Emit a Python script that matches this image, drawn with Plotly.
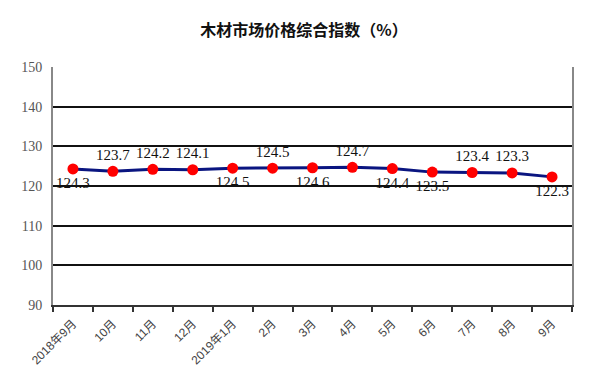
import plotly.graph_objects as go

months = ["2018年9月", "10月", "11月", "12月", "2019年1月", "2月", "3月",
          "4月", "5月", "6月", "7月", "8月", "9月"]
index_values = [124.3, 123.7, 124.2, 124.1, 124.5, 124.5, 124.6,
                124.7, 124.4, 123.5, 123.4, 123.3, 122.3]
label_side = ["bottom", "top", "top", "top", "bottom", "top", "bottom",
              "top", "bottom", "bottom", "top", "top", "bottom"]
y_ticks = [90, 100, 110, 120, 130, 140, 150]

fig = go.Figure()
fig.add_trace(go.Scatter(
    x=months, y=index_values,
    mode="lines+markers+text",
    line=dict(color="#0a1580", width=3),
    marker=dict(color="#ff0000", size=11),
    text=[f"{v:.1f}" for v in index_values],
    textposition=[s + " center" for s in label_side],
    textfont=dict(family="Liberation Serif, DejaVu Serif, serif", size=15, color="#111111"),
    cliponaxis=False,
    showlegend=False,
))

fig.update_layout(
    width=592, height=365,
    margin=dict(l=45, r=28, t=59, b=68),
    paper_bgcolor="white", plot_bgcolor="white",
    title=dict(text="<b>木材市场价格综合指数（%）</b>", x=0.5, xanchor="center",
               yref="container", y=0.94, yanchor="middle",
               font=dict(family="Noto Sans CJK SC", size=16, color="#111111")),
    xaxis=dict(
        type="category", range=[-0.5, 12.5], automargin=False,
        showgrid=False, showline=True, linecolor="#333333", linewidth=2,
        ticks="outside", tickson="boundaries", ticklen=5, tickcolor="#333333", tickwidth=2,
        tickangle=-45, ticklabelstandoff=5,
        tickfont=dict(family="Liberation Sans, Noto Sans CJK SC", size=12, color="#444444"),
    ),
    yaxis=dict(
        range=[90, 150], tickvals=y_ticks, automargin=False,
        showgrid=True, gridcolor="#111111", gridwidth=1.5,
        showline=True, linecolor="#888888", linewidth=2, mirror=True,
        ticks="", zeroline=False, ticklabelstandoff=6,
        tickfont=dict(family="Liberation Serif, DejaVu Serif, serif", size=14, color="#555555"),
    ),
)

fig.write_html("out.html")
